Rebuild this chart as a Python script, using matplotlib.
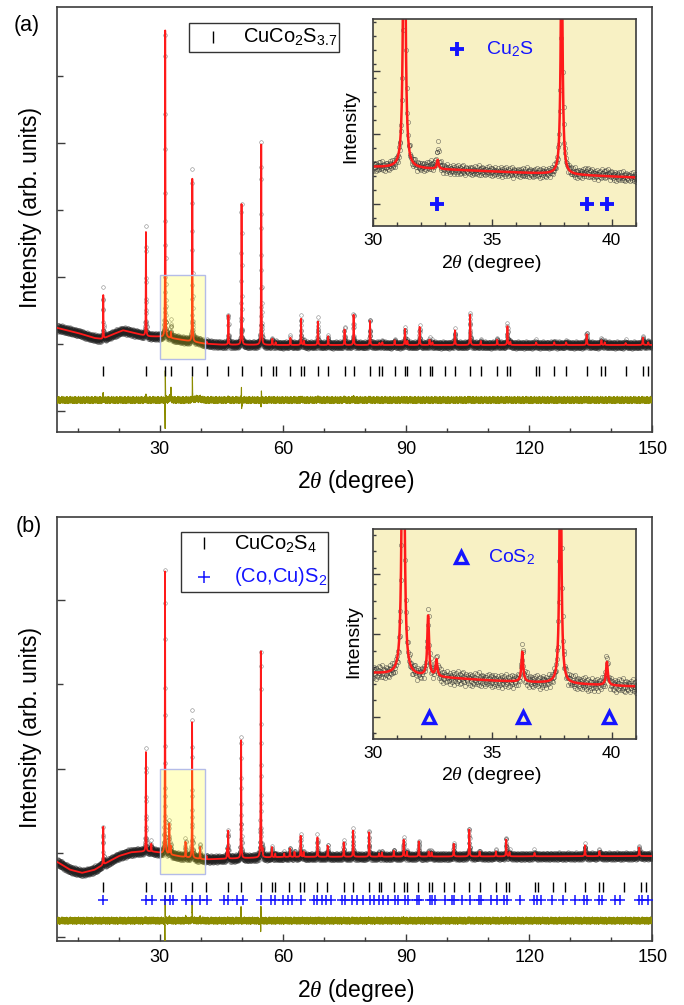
import numpy as np
import matplotlib
matplotlib.use("Agg")
import matplotlib.pyplot as plt
from matplotlib.patches import Rectangle
from matplotlib.ticker import FixedLocator, MultipleLocator

plt.rcParams['font.family'] = ['Liberation Sans', 'DejaVu Sans']
plt.rcParams['mathtext.fontset'] = 'custom'
plt.rcParams['mathtext.rm'] = 'Liberation Sans'
plt.rcParams['mathtext.it'] = 'Liberation Serif:italic'

# ---------------- data ----------------
# Panel (a): CuCo2S3.7
bg_a_pos = [5, 10, 14, 16, 18, 21, 24, 27, 30, 33, 36, 39, 41, 45, 60, 150]
bg_a_val = [240, 165, 90, 75, 130, 205, 160, 115, 110, 85, 55, 25, 5, -10, -15, -15]

peak_a_pos = [16.2, 26.6, 31.3, 32.7, 37.9, 41.4, 46.7, 49.9, 54.7, 57.4, 58.2, 61.8,
              64.4, 65.1, 68.5, 71.0, 75.0, 77.2, 81.2, 83.5, 84.2, 87.2, 89.7, 90.3,
              93.3, 95.7, 96.4, 101.9, 105.6, 108.2, 112.2, 114.7, 115.4, 121.7, 126.1,
              129.0, 134.0, 137.6, 138.4, 143.5, 147.7, 149.0]
peak_a_calc = [650, 1550, 4580, 90, 2430, 30, 440, 2100, 2990, 90, 40, 110,
               390, 60, 350, 130, 230, 450, 360, 30, 40, 70, 240, 60,
               270, 80, 40, 220, 450, 60, 80, 280, 50, 40, 40,
               40, 160, 70, 40, 30, 110, 40]
peak_a_obs = [760, 1620, 4600, 250, 2650, 30, 470, 2130, 3010, 100, 40, 110,
              420, 60, 380, 130, 260, 480, 380, 30, 40, 70, 250, 60,
              270, 80, 40, 220, 460, 60, 80, 290, 50, 40, 40,
              40, 170, 70, 40, 30, 110, 40]
peak_a_shift = [0.0, 0.0, 0.006, 0.0, 0.004, 0.0, 0.0, -0.005, 0.003, 0.0, 0.0, 0.0,
                0.0, 0.0, 0.0, 0.0, 0.0, 0.0, 0.0, 0.0, 0.0, 0.0, 0.0, 0.0,
                0.0, 0.0, 0.0, 0.0, 0.0, 0.0, 0.0, 0.0, 0.0, 0.0, 0.0,
                0.0, 0.0, 0.0, 0.0, 0.0, 0.0, 0.0]
extra_a_pos = [32.4, 39.0, 39.8]          # unfitted Cu2S humps in observed data
extra_a_h = [25, 30, 25]

ticks_a = [16.17, 26.6, 31.28, 32.66, 37.87, 41.38, 46.70, 49.89, 54.68, 57.45, 58.19,
           61.81, 64.36, 65.11, 68.51, 70.96, 75.0, 77.23, 81.17, 83.51, 84.15, 87.24,
           89.68, 90.32, 93.30, 95.74, 96.38, 99.47, 101.91, 105.64, 108.19, 112.23,
           114.68, 115.42, 121.70, 122.44, 126.06, 129.04, 134.04, 137.55, 138.40,
           143.51, 147.76, 149.04]
cu2s_pos = [32.66, 38.98, 39.79]

# Panel (b): CuCo2S4 + (Co,Cu)S2
bg_b_pos = [5, 8, 11, 14, 17, 20, 23, 26, 28, 30, 35, 41, 50, 60, 100, 150]
bg_b_val = [-110, -200, -240, -205, -120, -40, 5, 15, 15, 0, -45, -80, -65, -50, -45, -40]

peak_b_pos = [16.2, 26.6, 27.9, 31.25, 32.3, 32.65, 36.25, 37.85, 39.8, 41.35, 46.35,
              46.65, 49.8, 54.6, 55.0, 57.3, 58.1, 60.3, 61.7, 62.8, 64.3, 65.0, 68.4,
              70.9, 74.8, 77.1, 81.0, 83.4, 84.1, 87.0, 89.4, 90.2, 93.1, 95.5, 96.2,
              101.6, 105.4, 107.9, 111.9, 114.4, 115.2, 121.3, 133.6, 137.1, 146.8]
peak_b_calc = [450, 1180, 90, 3360, 360, 100, 180, 1615, 140, 40, 110,
               330, 1400, 2450, 80, 120, 40, 40, 100, 60, 250, 60, 230,
               130, 170, 310, 290, 40, 50, 70, 200, 60, 180, 60, 50,
               150, 320, 60, 60, 200, 50, 40, 130, 60, 100]
peak_b_obs = [450, 1210, 110, 3380, 390, 110, 220, 1795, 170, 40, 110,
              340, 1485, 2465, 80, 120, 40, 40, 100, 60, 260, 60, 240,
              130, 170, 320, 300, 40, 50, 70, 210, 60, 180, 60, 50,
              150, 340, 60, 60, 210, 50, 40, 130, 60, 100]
peak_b_shift = [0.0, 0.0, 0.0, 0.006, 0.0, 0.0, 0.0, 0.003, 0.0, 0.0, 0.0,
                0.0, -0.004, 0.004, 0.0, 0.0, 0.0, 0.0, 0.0, 0.0, 0.0, 0.0, 0.0,
                0.0, 0.0, 0.0, 0.0, 0.0, 0.0, 0.0, 0.0, 0.0, 0.0, 0.0, 0.0,
                0.0, 0.0, 0.0, 0.0, 0.0, 0.0, 0.0, 0.0, 0.0, 0.0]

ticks_b = [16.2, 26.6, 31.25, 32.65, 37.85, 41.3, 46.65, 49.8, 54.6, 57.2, 58.1, 61.5,
           64.2, 65.0, 68.3, 70.8, 74.8, 77.0, 80.9, 83.3, 84.0, 87.0, 89.5, 90.1, 93.0,
           95.5, 96.2, 99.2, 101.6, 105.4, 107.9, 111.9, 114.4, 115.2, 121.3, 122.1,
           125.8, 128.8, 133.6, 137.1, 137.9, 143.0, 147.2, 148.5]
ticks_b2 = [16.2, 26.6, 28.0, 31.2, 32.4, 33.2, 36.3, 37.8, 39.7, 41.5, 45.7, 46.5,
            48.9, 50.2, 54.57, 57.13, 57.98, 59.89, 61.17, 62.23, 64.36, 67.55, 68.40,
            69.47, 70.53, 71.81, 74.47, 75.0, 76.91, 77.98, 79.47, 81.17, 82.23, 83.30,
            84.36, 85.64, 87.23, 87.98, 89.68, 90.42, 92.55, 93.08, 95.74, 96.27, 97.12,
            99.47, 101.17, 101.60, 103.72, 105.64, 107.77, 108.19, 110.63, 112.23,
            113.83, 114.68, 117.76, 121.27, 122.02, 122.87, 125.53, 128.19, 131.17,
            133.30, 134.04, 136.91, 137.76, 140.95, 142.02, 146.80, 147.55, 148.93]
cos2_pos = [32.35, 36.26, 39.87]

# counting-noise residuals (obs - calc, normalised), read as a texture
noise = [0.31, -0.52, 0.08, 0.77, -0.24, -0.91, 0.45, 0.12, -0.36, 0.60, -0.05, -0.71,
         0.28, 0.93, -0.43, 0.17, -0.19, 0.54, -0.82, 0.02, 0.39, -0.63, 0.71, -0.11,
         -0.29, 0.85, -0.48, 0.22, 0.05, -0.97, 0.36, 0.64, -0.33, -0.14, 0.49, -0.58,
         0.11, 0.26, -0.75, 0.67, -0.21, 0.40, -0.02, -0.88, 0.58, 0.15, -0.45, 0.34,
         -0.66, 0.81, -0.09, -0.38, 0.19, 0.73, -0.56, 0.04, -0.27, 0.99, -0.69, 0.30,
         -0.12, 0.47, -0.84, 0.24, 0.62, -0.41, -0.16, 0.55, -0.60, 0.09, 0.35, -0.79,
         0.43, -0.23, 0.70, -0.50, 0.13, -0.07, 0.87, -0.35, -0.64, 0.20, 0.51, -0.18,
         -0.93, 0.66, -0.30, 0.06, 0.42, -0.72, 0.27, -0.46, 0.79, -0.15, 0.33, -0.54,
         0.10, -0.85, 0.57, -0.26, 0.16]

# ---------------- helpers ----------------
W, H = 684, 1005


def frect(x0, y0, x1, y1):
    return [x0 / W, 1 - y1 / H, (x1 - x0) / W, (y1 - y0) / H]


def background(x, pos, val):
    b = np.interp(x, pos, val)
    k = 40
    pad = np.concatenate([np.full(k, b[0]), b, np.full(k, b[-1])])
    ker = np.ones(2 * k + 1) / (2 * k + 1)
    return np.convolve(pad, ker, mode='same')[k:-k]


def peaks(x, pos, hts, shifts=None):
    y = np.zeros_like(x)
    if shifts is None:
        shifts = [0.0] * len(pos)
    for p, h, s in zip(pos, hts, shifts):
        g = max(0.5 * (0.085 + 0.0006 * (p - 30)), 0.04)
        y += h * g * g / ((x - p - s) ** 2 + g * g)
    return y


RED = '#ff1a1a'
OLIVE = '#8c8c00'
BLUE = '#1414ff'
SPINE = '#3c3c3c'
INSET_BG = '#f8f1c4'

fig = plt.figure(figsize=(6.84, 10.05), dpi=100)

axa = fig.add_axes(frect(57.3, 7.3, 652.3, 432.3))
axb = fig.add_axes(frect(57.3, 516.7, 652.3, 940.7))
insa = fig.add_axes(frect(373.3, 19, 635.5, 226))
insb = fig.add_axes(frect(373.3, 529, 635.5, 738.7))

x = np.arange(5, 150.0001, 0.02)
xf = np.arange(5, 150.0001, 0.004)


def build(bpos, bval, ppos, pcalc, pobs, pshift, amp, extra_pos=None, extra_h=None):
    bgx = background(x, bpos, bval)
    bgf = background(xf, bpos, bval)
    calc_x = bgx + peaks(x, ppos, pcalc)
    calc_f = bgf + peaks(xf, ppos, pcalc)
    obs = bgx + peaks(x, ppos, pobs, pshift) + amp * np.resize(np.array(noise), x.size)
    if extra_pos is not None:
        for p, h in zip(extra_pos, extra_h):
            obs += h * 0.04 / ((x - p) ** 2 + 0.04)
    return calc_x, calc_f, obs


calc_a, calcf_a, obs_a = build(bg_a_pos, bg_a_val, peak_a_pos, peak_a_calc, peak_a_obs,
                               peak_a_shift, 55, extra_a_pos, extra_a_h)
calc_b, calcf_b, obs_b = build(bg_b_pos, bg_b_val, peak_b_pos, peak_b_calc, peak_b_obs,
                               peak_b_shift, 45)


def style_main(ax, ylim, ymaj, ymin):
    ax.set_xlim(5, 150)
    ax.set_ylim(*ylim)
    ax.xaxis.set_major_locator(FixedLocator([30, 60, 90, 120, 150]))
    ax.xaxis.set_minor_locator(FixedLocator([10, 20, 40, 50, 70, 80, 100, 110, 130, 140]))
    ax.yaxis.set_major_locator(FixedLocator(ymaj))
    ax.yaxis.set_minor_locator(FixedLocator(ymin))
    ax.tick_params(axis='both', which='both', direction='in', top=False, right=False,
                   color=SPINE, width=1.0)
    ax.tick_params(axis='x', which='major', length=5, pad=6, labelsize=13)
    ax.tick_params(axis='x', which='minor', length=3)
    ax.tick_params(axis='y', which='major', length=6, labelleft=False)
    ax.tick_params(axis='y', which='minor', length=4)
    for s in ax.spines.values():
        s.set_color(SPINE)
        s.set_linewidth(1.2)


def draw_main(ax, calc_f, obs, calc_x, diff_off):
    ax.plot(x, obs, 'o', ms=2.6, mfc='none', mec='#222222', mew=0.4, alpha=0.55, zorder=2)
    ax.plot(xf, calc_f, '-', color=RED, lw=1.3, zorder=3)
    ax.plot(x, obs - calc_x + diff_off, '-', color=OLIVE, lw=0.8, zorder=3)


# ---- panel (a)
style_main(axa, (-1318, 5025), [-1000, 1000, 3000], [0, 2000, 4000])
draw_main(axa, calcf_a, obs_a, calc_a, -836)
axa.plot(ticks_a, [-403] * len(ticks_a), '|', color='k', ms=7.5, mew=1.0, zorder=3)
axa.add_patch(Rectangle((30, -219), 11, 1244, facecolor='#ffff00', alpha=0.22,
                        edgecolor='none', zorder=5))
axa.add_patch(Rectangle((30, -219), 11, 1244, facecolor='none',
                        edgecolor='#b4bce8', lw=1.0, zorder=6))

# legend (a)
axa.add_patch(Rectangle((0.2216, 0.8955), 0.2519, 0.0683, transform=axa.transAxes,
                        facecolor='white', edgecolor='#333333', lw=1.0, zorder=7))
axa.plot([0.2612], [0.9308], '|', color='k', ms=8, mew=1.0, transform=axa.transAxes, zorder=8)
axa.text(0.3116, 0.9308, r'CuCo$_2$S$_{3.7}$', transform=axa.transAxes, fontsize=14.5,
         va='center', ha='left', zorder=8)

# ---- panel (b)
style_main(axb, (-1046, 3993), [-1000, 1000, 3000], [0, 2000])
draw_main(axb, calcf_b, obs_b, calc_b, -808)
axb.plot(ticks_b, [-404] * len(ticks_b), '|', color='k', ms=6.5, mew=1.0, zorder=3)
axb.plot(ticks_b2, [-562] * len(ticks_b2), '+', color=BLUE, ms=7, mew=1.1, zorder=3)
axb.add_patch(Rectangle((30, -257), 11, 1247, facecolor='#ffff00', alpha=0.22,
                        edgecolor='none', zorder=5))
axb.add_patch(Rectangle((30, -257), 11, 1247, facecolor='none',
                        edgecolor='#b4bce8', lw=1.0, zorder=6))

axb.add_patch(Rectangle((0.2079, 0.8231), 0.2476, 0.1415, transform=axb.transAxes,
                        facecolor='white', edgecolor='#333333', lw=1.0, zorder=7))
axb.plot([0.2471], [0.9373], '|', color='k', ms=8, mew=1.0, transform=axb.transAxes, zorder=8)
axb.plot([0.2471], [0.8585], '+', color=BLUE, ms=9, mew=1.1, transform=axb.transAxes, zorder=8)
axb.text(0.297, 0.9373, r'CuCo$_2$S$_4$', transform=axb.transAxes, fontsize=14.5,
         va='center', ha='left', zorder=8)
axb.text(0.297, 0.8585, r'(Co,Cu)S$_2$', transform=axb.transAxes, fontsize=14.5,
         va='center', ha='left', color=BLUE, zorder=8)


# ---- insets
def style_inset(ax, ylim, ymaj_frac):
    ax.set_facecolor(INSET_BG)
    ax.set_xlim(30, 41)
    ax.set_ylim(*ylim)
    lo, hi = ylim
    ax.xaxis.set_major_locator(FixedLocator([30, 35, 40]))
    ax.xaxis.set_minor_locator(MultipleLocator(1))
    maj = [lo + f * (hi - lo) for f in ymaj_frac]
    ax.yaxis.set_major_locator(FixedLocator(maj))
    step = (maj[1] - maj[0]) / 5.0
    mins = [lo + k * step + (maj[0] - lo) % step for k in range(0, 40)]
    ax.yaxis.set_minor_locator(FixedLocator([m for m in mins if lo < m < hi]))
    ax.tick_params(axis='both', which='both', direction='in', top=False, right=False,
                   color=SPINE, width=1.0)
    ax.tick_params(axis='x', which='major', length=5, pad=5, labelsize=12.5)
    ax.tick_params(axis='x', which='minor', length=3)
    ax.tick_params(axis='y', which='major', length=5, labelleft=False)
    ax.tick_params(axis='y', which='minor', length=2.5)
    for s in ax.spines.values():
        s.set_color(SPINE)
        s.set_linewidth(1.2)


ma = (x >= 29.5) & (x <= 41.5)
mfa = (xf >= 29.5) & (xf <= 41.5)

style_inset(insa, (-480, 1590), [0.106, 0.444, 0.750])
insa.plot(x[ma], obs_a[ma], 'o', ms=3.0, mfc='none', mec='#333333', mew=0.5, alpha=0.6)
insa.plot(xf[mfa], calcf_a[mfa], '-', color=RED, lw=1.8)
insa.plot(cu2s_pos, [0.106] * 3, '+', color=BLUE, ms=10, mew=2.8,
          transform=insa.get_xaxis_transform(), clip_on=False)
insa.plot([33.5], [0.854], '+', color=BLUE, ms=10, mew=2.8,
          transform=insa.get_xaxis_transform())
insa.text(34.73, 0.854, r'Cu$_2$S', color=BLUE, fontsize=14, va='center', ha='left',
          transform=insa.get_xaxis_transform())

style_inset(insb, (-393, 865), [0.105, 0.499, 0.784])
insb.plot(x[ma], obs_b[ma], 'o', ms=3.0, mfc='none', mec='#333333', mew=0.5, alpha=0.6)
insb.plot(xf[mfa], calcf_b[mfa], '-', color=RED, lw=1.8)
insb.plot(cos2_pos, [0.105] * 3, '^', color=BLUE, mfc='none', ms=8, mew=2.4,
          transform=insb.get_xaxis_transform())
insb.plot([33.67], [0.868], '^', color=BLUE, mfc='none', ms=8, mew=2.4,
          transform=insb.get_xaxis_transform())
insb.text(34.8, 0.868, r'CoS$_2$', color=BLUE, fontsize=14, va='center', ha='left',
          transform=insb.get_xaxis_transform())

# ---- labels
lab = r'2$\theta$ (degree)'
fig.text(356 / W, 1 - 481.7 / H, lab, fontsize=16.5, ha='center', va='center')
fig.text(356 / W, 1 - 990 / H, lab, fontsize=16.5, ha='center', va='center')
fig.text(30.6 / W, 1 - 208 / H, 'Intensity (arb. units)', fontsize=16.5, rotation=90,
         ha='center', va='center')
fig.text(30.6 / W, 1 - 727.5 / H, 'Intensity (arb. units)', fontsize=16.5, rotation=90,
         ha='center', va='center')
fig.text(490.8 / W, 1 - 263.3 / H, lab, fontsize=14, ha='center', va='center')
fig.text(490.8 / W, 1 - 775 / H, lab, fontsize=14, ha='center', va='center')
fig.text(351 / W, 1 - 126.7 / H, 'Intensity', fontsize=14, rotation=90, ha='center', va='center')
fig.text(354 / W, 1 - 641.7 / H, 'Intensity', fontsize=14, rotation=90, ha='center', va='center')
fig.text(27 / W, 1 - 25 / H, '(a)', fontsize=15.5, ha='center', va='center')
fig.text(28.4 / W, 1 - 526.7 / H, '(b)', fontsize=15.5, ha='center', va='center')

fig.savefig('out.png', dpi=100)
